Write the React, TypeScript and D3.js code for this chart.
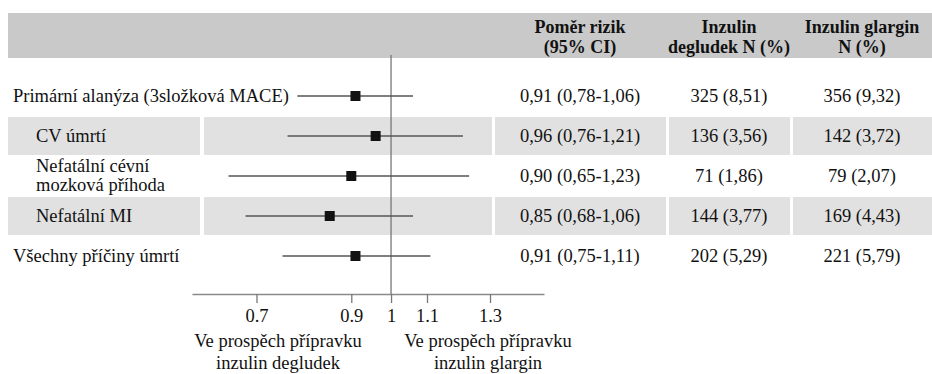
import React, { useEffect, useRef } from 'react'
import * as d3 from 'd3'

const [WIDTH, HEIGHT] = [932, 374]

// data
const labels = [
  ['Primární alanýza (3složková MACE)'],
  ['CV úmrtí'],
  ['Nefatální cévní', 'mozková příhoda'],
  ['Nefatální MI'],
  ['Všechny příčiny úmrtí'],
]
const indented = [false, true, true, true, false]
const shaded = [false, true, false, true, false]
const hr = [0.91, 0.96, 0.90, 0.85, 0.91]
const lo = [0.78, 0.76, 0.65, 0.68, 0.75]
const hi = [1.06, 1.21, 1.23, 1.06, 1.11]
const degludek = ['325 (8,51)', '136 (3,56)', '71 (1,86)', '144 (3,77)', '202 (5,29)']
const glargin = ['356 (9,32)', '142 (3,72)', '79 (2,07)', '169 (4,43)', '221 (5,79)']
const tickValues = [0.7, 0.9, 1, 1.1, 1.3]
const headers = [
  ['Poměr rizik', '(95% CI)'],
  ['Inzulin', 'degludek N (%)'],
  ['Inzulin glargin', 'N (%)'],
]
const favours = [
  ['Ve prospěch přípravku', 'inzulin degludek'],
  ['Ve prospěch přípravku', 'inzulin glargin'],
]

const FONT = '"Liberation Serif", "Times New Roman", serif'
const colX = [580, 729, 862]
// white gaps in the shaded rows
const bandSegments = [[8, 200], [204, 492], [495, 666], [669, 790], [793, 932]]
const axisY = 294

const fmt = (v: number) => d3.format('.2f')(v).replace('.', ',')

export default function App() {
  const axisRef = useRef<SVGGElement>(null)

  const x = d3.scaleLog().domain([0.59, 1.5]).range([192, 544])
  const y = d3.scalePoint<number>().domain(d3.range(labels.length)).range([96, 256])

  useEffect(() => {
    const g = d3.select(axisRef.current)
    g.selectAll('*').remove()
    g.call(
      d3.axisBottom(x)
        .tickValues(tickValues)
        .tickFormat(d => String(d))
        .tickSize(9)
        .tickSizeOuter(0)
        .tickPadding(6)
    )
    g.select('.domain').attr('stroke', '#8a8a8a').attr('stroke-width', 1.6)
    g.selectAll('.tick line').attr('stroke', '#777').attr('stroke-width', 1.3)
    g.selectAll('.tick text')
      .attr('fill', '#111')
      .style('font-family', FONT)
      .style('font-size', '18.5px')
  }, [])

  return (
    <svg width={WIDTH} height={HEIGHT} style={{ position: 'absolute', left: 0, top: 0 }}
      fontFamily={FONT} fontSize={18.5}>
      <rect x={8} y={13} width={WIDTH - 8} height={45} fill="#c9c9c9" />
      {headers.map((h, i) => (
        <text key={i} x={colX[i]} textAnchor="middle" fontWeight="bold" fontSize={18} fill="#111">
          <tspan x={colX[i]} y={33}>{h[0]}</tspan>
          <tspan x={colX[i]} y={53}>{h[1]}</tspan>
        </text>
      ))}

      {labels.map((_, i) => shaded[i] && bandSegments.map(([a, b], j) => (
        <rect key={`${i}-${j}`} x={a} y={y(i)! - 19} width={b - a} height={38} fill="#e1e1e1" />
      )))}

      <line x1={x(1)} x2={x(1)} y1={55} y2={axisY} stroke="#777" strokeWidth={1.3} />

      {labels.map((lab, i) => {
        const cy = y(i)!
        const tx = indented[i] ? 36 : 13
        return (
          <g key={i} fill="#111">
            {lab.length === 1
              ? <text x={tx} y={cy + 6}>{lab[0]}</text>
              : <text x={tx}>
                  <tspan x={tx} y={cy - 4}>{lab[0]}</tspan>
                  <tspan x={tx} y={cy + 15}>{lab[1]}</tspan>
                </text>}
            <line x1={x(lo[i])} x2={x(hi[i])} y1={cy} y2={cy} stroke="#555" strokeWidth={1.6} />
            <rect x={x(hr[i]) - 5} y={cy - 5} width={10} height={10} fill="#111" />
            <text x={colX[0]} y={cy + 6} textAnchor="middle">{`${fmt(hr[i])} (${fmt(lo[i])}-${fmt(hi[i])})`}</text>
            <text x={colX[1]} y={cy + 6} textAnchor="middle">{degludek[i]}</text>
            <text x={colX[2]} y={cy + 6} textAnchor="middle">{glargin[i]}</text>
          </g>
        )
      })}

      <g ref={axisRef} transform={`translate(0,${axisY})`} />

      {favours.map((f, i) => {
        const cx = i === 0 ? 278 : 488
        return (
          <text key={i} textAnchor="middle" fill="#111">
            <tspan x={cx} y={347}>{f[0]}</tspan>
            <tspan x={cx} y={369}>{f[1]}</tspan>
          </text>
        )
      })}
    </svg>
  )
}
